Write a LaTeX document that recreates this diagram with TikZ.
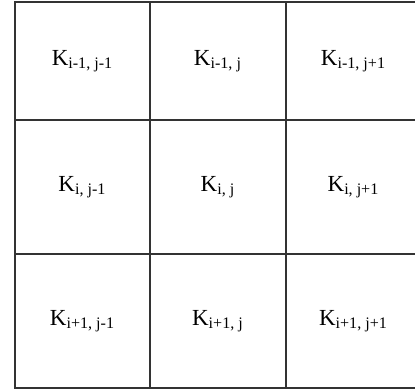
\documentclass[tikz,border=0pt]{standalone}
\usepackage{fontspec}
\setmainfont{Liberation Serif}
\usepackage{tikz}
\usetikzlibrary{positioning}
\definecolor{gridline}{rgb}{0.2,0.2,0.2}

\begin{document}
\begin{tikzpicture}[x=0.5pt, y=-0.5pt,
  cell/.style={draw=gridline, line width=0.9pt, minimum width=67.75pt, minimum height=67pt, inner sep=0pt, font=\fontsize{11.5}{14}\selectfont},
  toprow/.style={cell, minimum height=59pt}
]
\useasboundingbox (0,0) rectangle (415,390);
\node[toprow] (k11) at (82.5,61) {K\textsubscript{i-1, j-1}};
\node[toprow] (k12) at (218,61) {K\textsubscript{i-1, j}};
\node[toprow] (k13) at (353.5,61) {K\textsubscript{i-1, j+1}};
\node[cell] (k21) at (82.5,187) {K\textsubscript{i, j-1}};
\node[cell] (k22) at (218,187) {K\textsubscript{i, j}};
\node[cell] (k23) at (353.5,187) {K\textsubscript{i, j+1}};
\node[cell] (k31) at (82.5,321) {K\textsubscript{i+1, j-1}};
\node[cell] (k32) at (218,321) {K\textsubscript{i+1, j}};
\node[cell] (k33) at (353.5,321) {K\textsubscript{i+1, j+1}};
\end{tikzpicture}
\end{document}
